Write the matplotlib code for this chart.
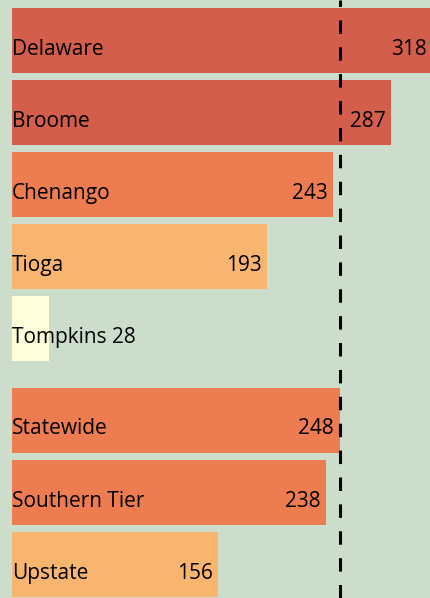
import matplotlib.pyplot as plt

plt.rcParams["font.family"] = ["Open Sans", "DejaVu Sans"]

counties = ["Delaware", "Broome", "Chenango", "Tioga", "Tompkins",
            "Statewide", "Southern Tier", "Upstate"]
values = [318, 287, 243, 193, 28, 248, 238, 156]
positions = [0, 1, 2, 3, 4, 5.27, 6.27, 7.27]
colors = ["#d25e4b", "#d25e4b", "#ee7c51", "#f8b570", "#ffffdb",
          "#ee7c51", "#ee7c51", "#f8b570"]
statewide = 248

bg = "#ccddcc"
fig = plt.figure(figsize=(4.3, 5.98), dpi=100, facecolor=bg)
ax = fig.add_axes([0, 0, 1, 1], facecolor=bg)

ax.barh(positions, values, height=0.9, color=colors, edgecolor="none")

for pos, name, val in zip(positions, counties, values):
    if val < 60:
        ax.text(0, pos + 0.2, f"{name} {val}", fontsize=15, va="baseline", ha="left")
    else:
        ax.text(0, pos + 0.2, name, fontsize=15, va="baseline", ha="left")
        ax.text(val - 4.2, pos + 0.2, str(val), fontsize=15, va="baseline", ha="right")

ax.axvline(statewide, color="black", lw=2.2, dashes=(4.4, 4.4))

ax.set_xlim(-9.08, 316.4)
ax.set_ylim(7.74, -0.5625)
ax.axis("off")

fig.savefig("out.png", dpi=100, facecolor=bg)
